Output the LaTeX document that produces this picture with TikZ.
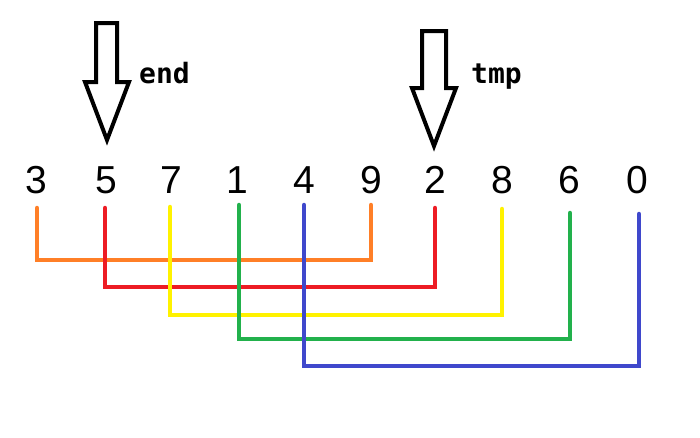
\documentclass[tikz,border=0pt]{standalone}
\usepackage{fontspec}
\setmainfont{Liberation Sans}
\newfontfamily\monob{DejaVu Sans Mono}
\definecolor{porange}{HTML}{FF7F27}
\definecolor{pred}{HTML}{ED1C24}
\definecolor{pyellow}{HTML}{FFF200}
\definecolor{pgreen}{HTML}{22B14C}
\definecolor{pblue}{HTML}{3F48CC}
\begin{document}
\begin{tikzpicture}[x=1pt,y=-1pt,
  digit/.style={inner sep=0pt,anchor=base,font=\fontsize{39}{39}\selectfont},
  label/.style={inner sep=0pt,anchor=west,font=\monob\bfseries\fontsize{28}{28}\selectfont},
  bigarrow/.style={draw=black,line width=4pt,line join=miter,fill=white},
  link/.style={line width=4.5pt,line cap=round,line join=miter}]
\useasboundingbox[fill=white] (0,0) rectangle (700,437);
% digits
\foreach \n/\x/\t in {0/36/3,1/106/5,2/171/7,3/237/1,4/304/4,5/371/9,6/435/2,7/502/8,8/569/6,9/637/0}
  \node[digit] (d\n) at (\x,193) {\t};
% arrows
\draw[bigarrow] (96,23) -- (117,23) -- (117,82) -- (129,82) -- (107,140) -- (85,82) -- (96,82) -- cycle;
\node[label] (endlbl) at (139,73) {end};
\draw[bigarrow] (422,31) -- (446,31) -- (446,88) -- (456,88) -- (434,146) -- (412,88) -- (422,88) -- cycle;
\node[label] (tmplbl) at (471,77) {tmp};
% line end coordinates
\coordinate (a0) at (37,208);  \coordinate (a5) at (371,205);
\coordinate (a1) at (105,208); \coordinate (a6) at (435,208);
\coordinate (a2) at (170,207); \coordinate (a7) at (502,209);
\coordinate (a3) at (239,205); \coordinate (a8) at (570,213);
\coordinate (a4) at (304,205); \coordinate (a9) at (639,214);
\draw[link,porange] (a0) |- (371,260) -- (a5);
\draw[link,pred]    (a1) |- (435,287) -- (a6);
\draw[link,pyellow] (a2) |- (502,315) -- (a7);
\draw[link,pgreen]  (a3) |- (570,339) -- (a8);
\draw[link,pblue]   (a4) |- (639,366) -- (a9);
\end{tikzpicture}
\end{document}
